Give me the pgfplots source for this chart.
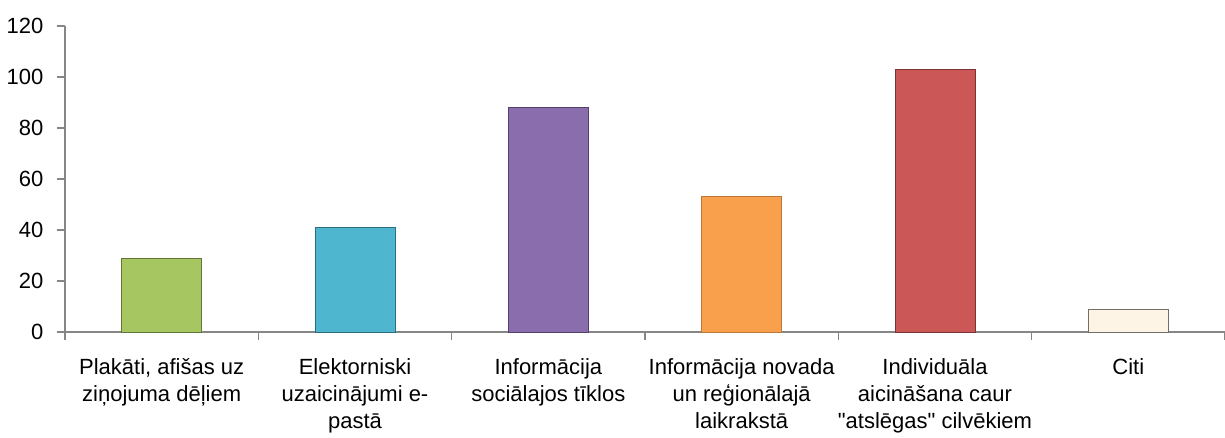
\documentclass[border=0pt]{standalone}
\usepackage{fontspec}
\setmainfont{Liberation Sans}
\newfontfamily\plainq{Liberation Sans}
\usepackage{pgfplots}
\pgfplotsset{compat=1.18}

\definecolor{axgray}{HTML}{868686}
\definecolor{cgreen}{HTML}{A6C662}
\definecolor{cblue}{HTML}{4FB6D0}
\definecolor{cpurple}{HTML}{8A6DAD}
\definecolor{corange}{HTML}{F9A04C}
\definecolor{cred}{HTML}{CB5757}
\definecolor{ccream}{HTML}{FDF4E5}

\begin{document}
\fontsize{11}{13.5}\selectfont
\begin{tikzpicture}
\useasboundingbox (-32.5pt,-53pt) rectangle (580pt,166pt);
\begin{axis}[
    scale only axis,
    width=580pt, height=153pt,
    ybar, bar width=40pt, bar shift=0pt,
    xmin=-0.5, xmax=5.5,
    ymin=0, ymax=120,
    ytick={0,20,...,120},
    xtick={0,...,5},
    xticklabels={
        {Plakāti, afišas uz\\ziņojuma dēļiem},
        {Elektorniski\\uzaicinājumi e-\\pastā},
        {Informācija\\sociālajos tīklos},
        {Informācija novada\\un reģionālajā\\laikrakstā},
        {Individuāla\\aicināšana caur\\{\plainq"}atslēgas{\plainq"} cilvēkiem},
        {Citi}},
    minor xtick={-0.5,0.5,...,5.5},
    major x tick style={draw=none},
    axis x line*=bottom, axis y line*=left,
    axis line style={axgray, line width=0.8pt, -},
    tick style={axgray, line width=0.8pt},
    tick align=outside,
    major tick length=4pt, minor tick length=4pt,
    xticklabel style={align=center, font=\fontsize{11}{13.5}\selectfont, anchor=north, yshift=-5.5pt},
    yticklabel style={font=\fontsize{11}{13.5}\selectfont, xshift=-3pt},
    /pgf/number format/assume math mode=true,
    clip=false,
]
\addplot[fill=cgreen, draw=cgreen!60!black] coordinates {(0,29)};
\addplot[fill=cblue, draw=cblue!60!black] coordinates {(1,41)};
\addplot[fill=cpurple, draw=cpurple!60!black] coordinates {(2,88)};
\addplot[fill=corange, draw=corange!75!black] coordinates {(3,53)};
\addplot[fill=cred, draw=cred!60!black] coordinates {(4,103)};
\addplot[fill=ccream, draw=ccream!45!black] coordinates {(5,9)};
\end{axis}
\end{tikzpicture}
\end{document}
